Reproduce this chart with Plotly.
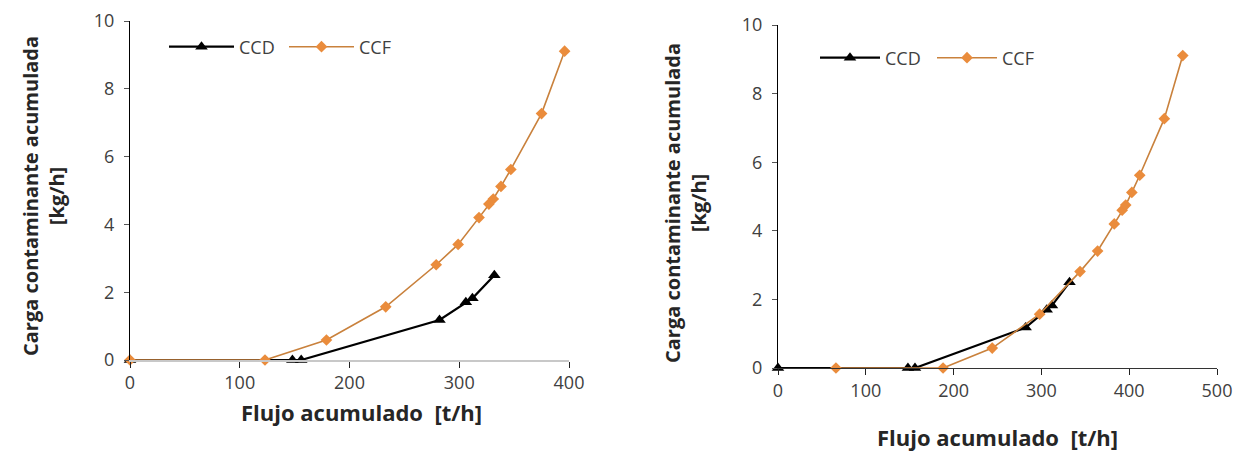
import plotly.graph_objects as go

# ---- data ----
ccd_x = [0, 148, 156, 282, 306, 312, 332]
ccd_y = [0, 0, 0, 1.18, 1.7, 1.82, 2.5]

ccf_left_x = [0, 123, 179, 233, 279, 299, 318, 327, 331, 338, 347, 375, 396]
ccf_left_y = [0, 0, 0.59, 1.57, 2.81, 3.41, 4.2, 4.6, 4.75, 5.12, 5.62, 7.27, 9.11]

ccf_right_x = [66, 188, 244, 298, 344, 364, 383, 392, 396, 403, 412, 440, 461]
ccf_right_y = [0, 0, 0.58, 1.57, 2.81, 3.41, 4.2, 4.6, 4.75, 5.12, 5.62, 7.27, 9.11]

x_title = "Flujo acumulado&nbsp; [t/h]"
y_title = "Carga contaminante acumulada<br>[kg/h]"

FONT = "'Open Sans', sans-serif"
BLACK = "#000000"
ORANGE_M = "#EA8C3C"
ORANGE_L = "#C9813C"
TXT = "#404040"

fig = go.Figure()

def add_series(xs, ys, name, xa, ya, legend, black):
    if black:
        fig.add_trace(go.Scatter(x=xs, y=ys, name=name, mode="lines+markers",
                                 line=dict(color=BLACK, width=2.2),
                                 marker=dict(symbol="triangle-up", size=11, color=BLACK),
                                 xaxis=xa, yaxis=ya, legend=legend, cliponaxis=False))
    else:
        fig.add_trace(go.Scatter(x=xs, y=ys, name=name, mode="lines+markers",
                                 line=dict(color=ORANGE_L, width=1.6),
                                 marker=dict(symbol="diamond", size=9, color=ORANGE_M),
                                 xaxis=xa, yaxis=ya, legend=legend, cliponaxis=False))

add_series(ccd_x, ccd_y, "CCD", "x", "y", "legend", True)
add_series(ccf_left_x, ccf_left_y, "CCF", "x", "y", "legend", False)
add_series(ccd_x, ccd_y, "CCD", "x2", "y2", "legend2", True)
add_series(ccf_right_x, ccf_right_y, "CCF", "x2", "y2", "legend2", False)

# page has an 8px body margin: figure is 1233x444 placed at (8, 8)
OFF = 8
W, H = 1249 - 2 * OFF, 460 - 2 * OFF

def px(x):
    return (x - OFF) / W

def py(y):
    return 1 - (y - OFF) / H

tickfont = dict(family=FONT, size=18, color=TXT)

common_y = dict(range=[0, 10], dtick=2, showgrid=False, zeroline=False,
                showline=True, linecolor="#000000", linewidth=1.3,
                ticks="outside", ticklen=5, tickcolor="#555555",
                tickfont=tickfont, ticklabelstandoff=6, automargin=False)

common_x = dict(showgrid=False, zeroline=False, showline=True,
                ticks="outside", ticklen=6, tickcolor="#222222",
                tickfont=tickfont, dtick=100, automargin=False)

fig.update_layout(
    width=W, height=H,
    margin=dict(l=0, r=0, t=0, b=0, autoexpand=False),
    paper_bgcolor="white", plot_bgcolor="white",
    font=dict(family=FONT, color=TXT),
    xaxis=dict(domain=[px(130), px(569)], range=[0, 400], anchor="y",
               linecolor="#c8c8c8", linewidth=1.5, **common_x),
    yaxis=dict(domain=[py(360), py(21)], anchor="x", **common_y),
    xaxis2=dict(domain=[px(778), px(1217)], range=[0, 500], anchor="y2",
                linecolor="#333333", linewidth=1.3, **common_x),
    yaxis2=dict(domain=[py(368), py(25)], anchor="x2", **common_y),
    legend=dict(orientation="h", x=px(164), y=py(47), xanchor="left", yanchor="middle",
                font=dict(family=FONT, size=18, color=TXT), bgcolor="rgba(0,0,0,0)",
                itemwidth=65, entrywidth=40, entrywidthmode="pixels", tracegroupgap=0),
    legend2=dict(orientation="h", x=px(815), y=py(58), xanchor="left", yanchor="middle",
                 font=dict(family=FONT, size=18, color=TXT), bgcolor="rgba(0,0,0,0)",
                 itemwidth=60, entrywidth=42, entrywidthmode="pixels", tracegroupgap=0),
    showlegend=True,
)

xt_font = dict(family=FONT, size=22, color="#262626")
yt_font = dict(family=FONT, size=20, color="#262626")
for cx, cy in [(361, 412), (997, 437)]:
    fig.add_annotation(text="<b>" + x_title + "</b>", x=px(cx), y=py(cy),
                       xref="paper", yref="paper", showarrow=False,
                       xanchor="center", yanchor="middle", font=xt_font)
for cx, cy in [(43, 196), (685, 203)]:
    fig.add_annotation(text="<b>" + y_title + "</b>", x=px(cx), y=py(cy),
                       xref="paper", yref="paper", showarrow=False, textangle=-90,
                       xanchor="center", yanchor="middle", font=yt_font)

fig.write_html("out.html")
